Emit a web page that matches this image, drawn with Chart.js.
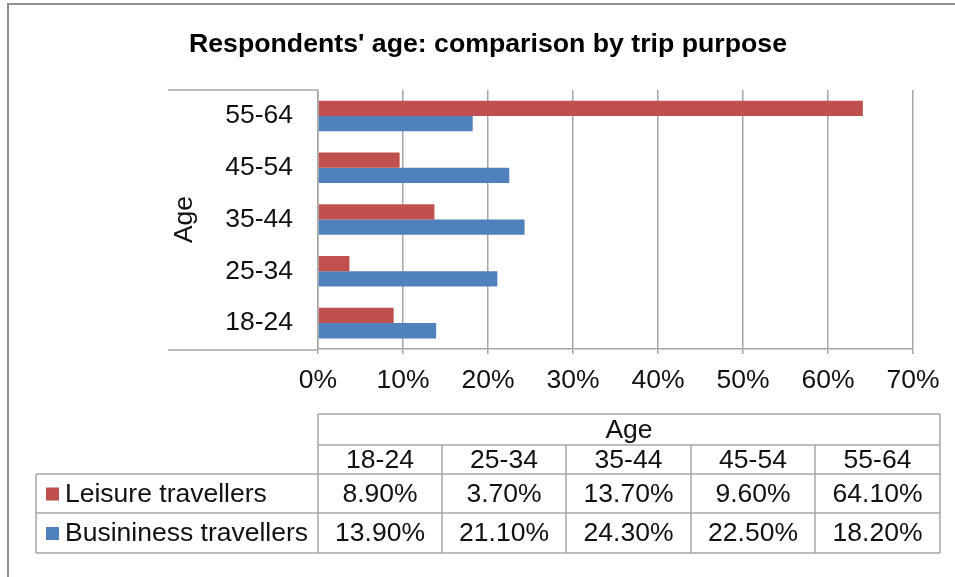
<!DOCTYPE html>
<html>
<head>
<meta charset="utf-8">
<title>Respondents' age: comparison by trip purpose</title>
<script src="https://cdn.jsdelivr.net/npm/chart.js@4/dist/chart.umd.min.js"></script>
<style>
  body { margin: 0; background: #fff; }
  #wrap { width: 955px; height: 577px; }
</style>
</head>
<body>
<div id="wrap"><canvas id="ageChart" width="955" height="577"></canvas></div>
<script>
// Age groups, in table order (bottom to top on the chart)
const ageGroups = ['18-24', '25-34', '35-44', '45-54', '55-64'];
const leisure = [8.9, 3.7, 13.7, 9.6, 64.1];
const business = [13.9, 21.1, 24.3, 22.5, 18.2];
const seriesNames = ['Leisure travellers', 'Busininess travellers'];
const seriesColors = ['#C0504D', '#4F81BD'];
const xTicks = [0, 10, 20, 30, 40, 50, 60, 70];

const FONT = '"Liberation Sans", Arial, sans-serif';
const LINE = '#a6a6a6';
const TEXT_SIZE = 26.5;

/**
 * Frame, axis label box and the data table under the plot
 */
const tablePlugin = {
  id: 'dataTable',
  afterDraw(chart) {
    const ctx = chart.ctx;
    const area = chart.chartArea;
    ctx.save();

    // outer frame (top and left edges visible)
    ctx.strokeStyle = '#8f8f8f';
    ctx.lineWidth = 2;
    ctx.beginPath();
    ctx.moveTo(8, 577);
    ctx.lineTo(8, 4);
    ctx.lineTo(955, 4);
    ctx.stroke();

    // box lines around the category labels
    ctx.strokeStyle = LINE;
    ctx.lineWidth = 1.5;
    ctx.beginPath();
    ctx.moveTo(168, area.top);
    ctx.lineTo(area.left, area.top);
    ctx.moveTo(168, area.bottom + 1);
    ctx.lineTo(area.left, area.bottom + 1);
    ctx.stroke();

    // table geometry
    const cols = [318, 442, 566, 691, 815, 940];
    const rows = [414, 445, 474, 513, 553];
    const legendLeft = 36;

    ctx.beginPath();
    // header rows span only the value columns
    ctx.moveTo(cols[0], rows[0]); ctx.lineTo(cols[5], rows[0]);
    ctx.moveTo(cols[0], rows[1]); ctx.lineTo(cols[5], rows[1]);
    for (let r = 2; r < rows.length; r++) {
      ctx.moveTo(legendLeft, rows[r]); ctx.lineTo(cols[5], rows[r]);
    }
    ctx.moveTo(cols[0], rows[0]); ctx.lineTo(cols[0], rows[4]);
    ctx.moveTo(cols[5], rows[0]); ctx.lineTo(cols[5], rows[4]);
    for (let c = 1; c < cols.length - 1; c++) {
      ctx.moveTo(cols[c], rows[1]); ctx.lineTo(cols[c], rows[4]);
    }
    ctx.moveTo(legendLeft, rows[2]); ctx.lineTo(legendLeft, rows[4]);
    ctx.stroke();

    ctx.fillStyle = '#111';
    ctx.font = TEXT_SIZE + 'px ' + FONT;
    ctx.textAlign = 'center';
    ctx.textBaseline = 'middle';
    ctx.fillText('Age', (cols[0] + cols[5]) / 2, (rows[0] + rows[1]) / 2 + 1);

    const values = [leisure, business];
    ageGroups.forEach((g, i) => {
      const cx = (cols[i] + cols[i + 1]) / 2;
      ctx.fillText(g, cx, (rows[1] + rows[2]) / 2 + 1);
      values.forEach((arr, s) => {
        ctx.fillText(arr[i].toFixed(2) + '%', cx, (rows[2 + s] + rows[3 + s]) / 2 + 1);
      });
    });

    // legend keys
    ctx.textAlign = 'left';
    seriesNames.forEach((name, s) => {
      const cy = (rows[2 + s] + rows[3 + s]) / 2;
      ctx.fillStyle = seriesColors[s];
      ctx.fillRect(46, cy - 6, 13, 13);
      ctx.fillStyle = '#111';
      ctx.fillText(name, 65, cy + 1);
    });

    ctx.restore();
  }
};

const ctx = document.getElementById('ageChart').getContext('2d');
Chart.defaults.font.family = FONT;
Chart.defaults.color = '#111';

const chart = new Chart(ctx, {
  type: 'bar',
  data: {
    labels: ageGroups.slice().reverse(),
    datasets: [
      {
        label: seriesNames[0],
        data: leisure.slice().reverse(),
        backgroundColor: seriesColors[0],
        categoryPercentage: 0.59,
        barPercentage: 1.0
      },
      {
        label: seriesNames[1],
        data: business.slice().reverse(),
        backgroundColor: seriesColors[1],
        categoryPercentage: 0.59,
        barPercentage: 1.0
      }
    ]
  },
  options: {
    indexAxis: 'y',
    responsive: false,
    animation: false,
    layout: {
      padding: { left: 63, right: 42, top: 8, bottom: 0 }
    },
    plugins: {
      legend: { display: false },
      tooltip: { enabled: false },
      title: {
        display: true,
        text: "Respondents' age: comparison by trip purpose",
        font: { size: 26.7, weight: 'bold' },
        color: '#000',
        padding: { top: 21, bottom: 29 }
      }
    },
    scales: {
      x: {
        min: 0,
        max: 70,
        afterBuildTicks: function(scale) {
          scale.ticks = xTicks.map(v => ({ value: v }));
        },
        afterFit: function(scale) {
          scale.height = 577 - 349;
        },
        grid: {
          color: LINE,
          lineWidth: 1.5,
          tickLength: 5
        },
        border: { color: LINE, width: 1.5 },
        ticks: {
          padding: 11,
          font: { size: TEXT_SIZE },
          callback: v => v + '%'
        }
      },
      y: {
        afterFit: function(scale) {
          scale.width = 318 - 63;
        },
        grid: { drawOnChartArea: false, drawTicks: false },
        border: { color: LINE, width: 1.5 },
        ticks: {
          padding: 25,
          font: { size: TEXT_SIZE }
        },
        title: {
          display: true,
          text: 'Age',
          font: { size: TEXT_SIZE },
          padding: { top: 106, bottom: 0 }
        }
      }
    }
  },
  plugins: [tablePlugin]
});
</script>
</body>
</html>
